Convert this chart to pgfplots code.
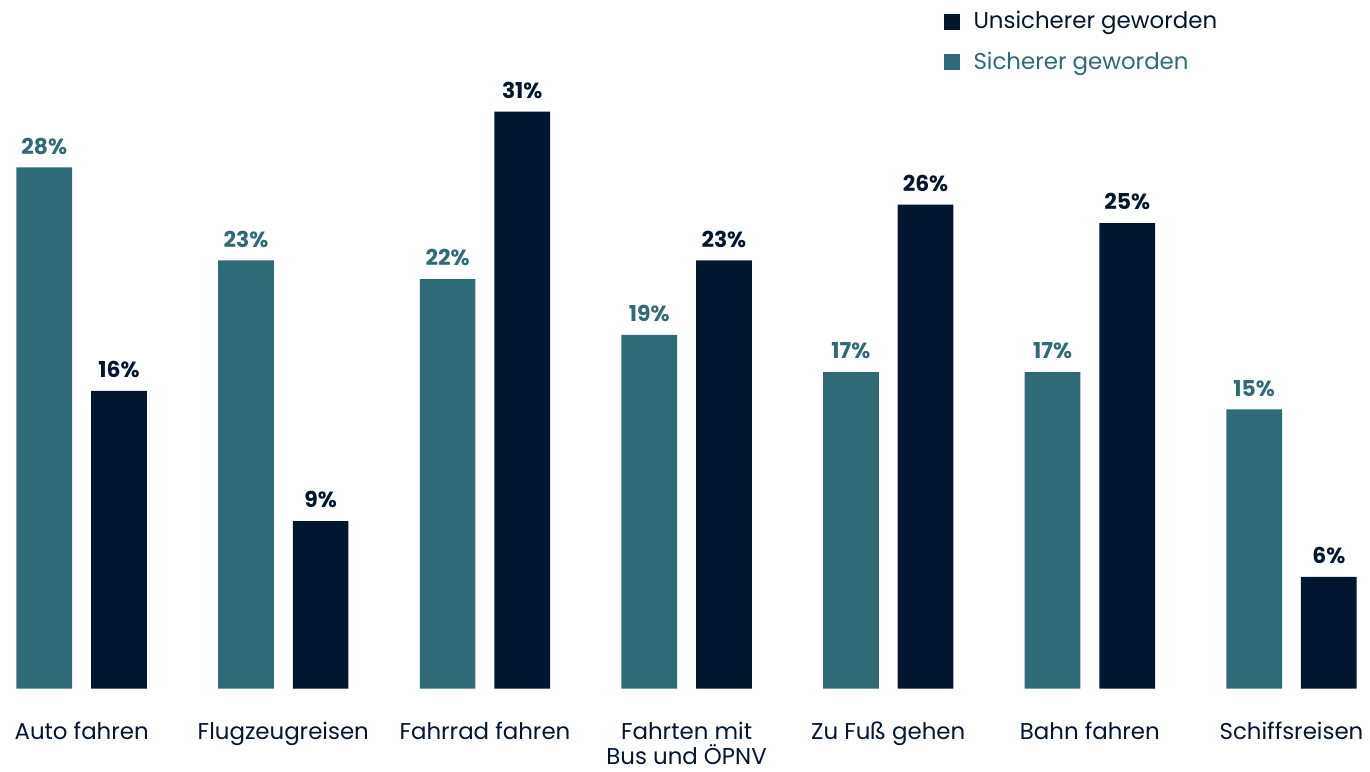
\documentclass[border=0pt]{standalone}
\usepackage{fontspec}
\setmainfont{Poppins}
\usepackage{pgfplots}
\pgfplotsset{compat=1.18}

\definecolor{teal}{HTML}{2F6B77}
\definecolor{navy}{HTML}{02162F}

\begin{document}
\begin{tikzpicture}
\begin{axis}[
    scale only axis,
    width=685pt, height=346pt,
    xmin=-0.405, xmax=6.355,
    ymin=0, ymax=36.98,
    axis line style={draw=none},
    major tick length=0pt,
    ytick=\empty,
    xtick={0,...,6},
    xticklabels={Auto fahren,Flugzeugreisen,Fahrrad fahren,Fahrten mit\\Bus und ÖPNV,Zu Fuß gehen,Bahn fahren,Schiffsreisen},
    xticklabel style={font=\fontsize{11.5}{13}\selectfont, text=navy, align=center, anchor=north, yshift=-13pt},
    nodes near coords={\pgfmathprintnumber[assume math mode=true]{\pgfplotspointmeta}\%},
    every node near coord/.append style={font=\fontsize{11}{13}\selectfont\bfseries, yshift=3pt},
    legend style={draw=none, fill=none, at={(axis description cs:0.692,0.99)}, anchor=north west,
        font=\fontsize{11.5}{13}\selectfont, row sep=6pt, inner sep=0pt, cells={anchor=west}},
    legend image code/.code={\fill (0pt,-4pt) rectangle (8pt,4pt);},
    legend style={nodes={inner xsep=7pt}},
    reverse legend,
]
% sicherer geworden
\addplot[ybar, bar width=28pt, bar shift=-18.75pt, fill=teal, draw=none,
    every node near coord/.append style={text=teal, xshift=-18.75pt}] coordinates {
    (0,28) (1,23) (2,22) (3,19) (4,17) (5,17) (6,15)
};
\addlegendentry{\textcolor{teal}{Sicherer geworden}}
% unsicherer geworden
\addplot[ybar, bar width=28pt, bar shift=18.75pt, fill=navy, draw=none,
    every node near coord/.append style={text=navy, xshift=18.75pt}] coordinates {
    (0,16) (1,9) (2,31) (3,23) (4,26) (5,25) (6,6)
};
\addlegendentry{\textcolor{navy}{Unsicherer geworden}}
\end{axis}
\end{tikzpicture}
\end{document}
